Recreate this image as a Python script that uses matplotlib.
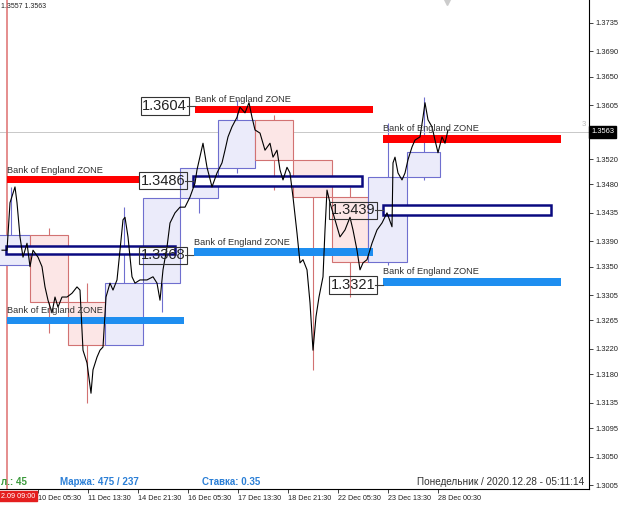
import matplotlib.pyplot as plt
from matplotlib.patches import Rectangle

plt.rcParams['font.family'] = ['Liberation Sans', 'DejaVu Sans']

# M30 bar index and close prices
bars = [2, 7, 10, 13, 15, 17, 20, 23, 27, 30, 33, 38, 42, 45, 48, 52, 55, 58, 62, 67,
        72, 77, 80, 83, 87, 91, 93, 97, 100, 103, 106, 110, 113, 117, 120, 123, 125, 128, 132, 135,
        140, 147, 153, 157, 160, 163, 167, 170, 175, 180, 185, 190, 195, 197, 203, 207, 212, 217, 222, 225,
        228, 232, 237, 240, 245, 249, 252, 255, 260, 265, 270, 273, 277, 280, 283, 287, 290, 293, 297, 300,
        303, 307, 310, 313, 316, 319, 323, 325, 327, 330, 335, 340, 345, 350, 353, 357, 360, 363, 367, 372,
        377, 382, 387, 392, 393, 395, 398, 402, 405, 408, 412, 415, 420, 423, 425, 428, 432, 435, 438, 442,
        445, 448]
closes = [1.3376, 1.3376, 1.3451, 1.3466, 1.3476, 1.3451, 1.3397, 1.3365, 1.3387, 1.3350,
          1.3376, 1.3365, 1.3350, 1.3318, 1.3297, 1.3277, 1.3302, 1.3286, 1.3302, 1.3302,
          1.3308, 1.3318, 1.3313, 1.3218, 1.3198, 1.3150, 1.3187, 1.3207, 1.3218, 1.3223,
          1.3302, 1.3324, 1.3313, 1.3329, 1.3376, 1.3424, 1.3428, 1.3397, 1.3334, 1.3324,
          1.3329, 1.3329, 1.3334, 1.3324, 1.3297, 1.3345, 1.3381, 1.3419, 1.3435, 1.3444,
          1.3444, 1.3460, 1.3482, 1.3503, 1.3545, 1.3507, 1.3476, 1.3498, 1.3514, 1.3534,
          1.3555, 1.3571, 1.3586, 1.3602, 1.3593, 1.3609, 1.3586, 1.3566, 1.3561, 1.3534,
          1.3545, 1.3523, 1.3534, 1.3503, 1.3487, 1.3507, 1.3498, 1.3460, 1.3403, 1.3356,
          1.3361, 1.3345, 1.3293, 1.3218, 1.3271, 1.3302, 1.3334, 1.3408, 1.3471, 1.3451,
          1.3424, 1.3397, 1.3408, 1.3428, 1.3408, 1.3376, 1.3345, 1.3356, 1.3361, 1.3387,
          1.3408, 1.3419, 1.3435, 1.3413, 1.3514, 1.3523, 1.3498, 1.3487, 1.3498, 1.3519,
          1.3539, 1.3550, 1.3555, 1.3586, 1.3609, 1.3582, 1.3571, 1.3550, 1.3530, 1.3555,
          1.3545, 1.3566]

# daily range boxes
day_start = [-8, 30, 68, 105, 143, 180, 218, 255, 293, 332, 368, 407]
day_end = [30, 68, 105, 143, 180, 218, 255, 293, 332, 368, 407, 440]
day_open = [1.3353, 1.3400, 1.3294, 1.3226, 1.3324, 1.3459, 1.3506, 1.3582, 1.3519, 1.3460, 1.3357, 1.3492]
day_close = [1.3400, 1.3294, 1.3226, 1.3324, 1.3459, 1.3506, 1.3582, 1.3519, 1.3460, 1.3357, 1.3492, 1.3531]
day_high = [1.3476, 1.3411, 1.3324, 1.3444, 1.3459, 1.3506, 1.3613, 1.3590, 1.3519, 1.3476, 1.3577, 1.3618]
day_low = [1.3353, 1.3245, 1.3135, 1.3226, 1.3278, 1.3435, 1.3498, 1.3471, 1.3187, 1.3302, 1.3353, 1.3487]

# Bank of England zones: start bar, end bar, low, high
red_zones = [(195, 373, 1.3593, 1.3604), (7, 140, 1.3482, 1.3493), (383, 561, 1.3545, 1.3558)]
blue_zones = [(7, 184, 1.3259, 1.3271), (194, 373, 1.3367, 1.3379), (383, 561, 1.3320, 1.3332)]
navy_zones = [(6, 175, 1.3370, 1.3383), (193, 362, 1.3477, 1.3493), (383, 551, 1.3432, 1.3447)]

# price labels and the bar where they attach
level_prices = [1.3604, 1.3486, 1.3368, 1.3439, 1.3321]
level_bars = [195, 193, 193, 383, 383]

current_price = 1.3563
y_ticks = [1.3735, 1.3690, 1.3650, 1.3605, 1.3520, 1.3480, 1.3435, 1.3390, 1.3350,
           1.3305, 1.3265, 1.3220, 1.3180, 1.3135, 1.3095, 1.3050, 1.3005]
x_tick_bars = [38, 88, 138, 188, 238, 288, 338, 388, 438]
x_tick_labels = ['10 Dec 05:30', '11 Dec 13:30', '14 Dec 21:30', '16 Dec 05:30', '17 Dec 13:30',
                 '18 Dec 21:30', '22 Dec 05:30', '23 Dec 13:30', '28 Dec 00:30']

fig = plt.figure(figsize=(6.2, 5.05), dpi=100)
ax = fig.add_axes([0, 16 / 505, 589 / 620, 489 / 505])
ax.set_xlim(0, 589)
ax.set_ylim(1.29987, 1.37713)

# daily boxes + wicks
for s, e, o, c, h, l in zip(day_start, day_end, day_open, day_close, day_high, day_low):
    if c >= o:
        fc, ec = '#ebebfa', '#6f6fcf'
    else:
        fc, ec = '#fce6e6', '#d27272'
    mid = (s + e) / 2
    ax.vlines(mid, l, h, color=ec, lw=0.8, zorder=1)
    ax.add_patch(Rectangle((s, min(o, c)), e - s, abs(c - o), fc=fc, ec=ec, lw=0.8, zorder=1.5))

# current price line and red time marker
ax.axhline(current_price, color='#c8c8c8', lw=0.7, zorder=1.2)
ax.axvline(7, color='#e07a7a', lw=1.2, zorder=1.3)

for s, e, lo, hi in red_zones:
    ax.add_patch(Rectangle((s, lo), e - s, hi - lo, fc='#ff0000', ec='none', zorder=2))
    ax.text(max(s, 7), hi + 0.00025, 'Bank of England ZONE', fontsize=6.7, color='#333333',
            ha='left', va='bottom', zorder=6)
for s, e, lo, hi in blue_zones:
    ax.add_patch(Rectangle((s, lo), e - s, hi - lo, fc='#1e8ef0', ec='none', zorder=2))
    ax.text(s, hi + 0.00025, 'Bank of England ZONE', fontsize=6.7, color='#333333',
            ha='left', va='bottom', zorder=6)
for s, e, lo, hi in navy_zones:
    ax.add_patch(Rectangle((s, lo), e - s, hi - lo, fc='white', ec='#0a0a80', lw=1.8, zorder=3))

ax.plot(bars, closes, color='black', lw=0.8, zorder=4)

for p, b in zip(level_prices, level_bars):
    ax.plot([b - 8, b], [p, p], color='#444444', lw=0.8, zorder=5)
    ax.text(b - 8, p, f'{p:.4f}', fontsize=10.5, color='#222222', ha='right', va='center', zorder=6,
            bbox=dict(boxstyle='square,pad=0.12', fc='none', ec='#333333', lw=0.8))

# axes styling
for side in ['left', 'top']:
    ax.spines[side].set_visible(False)
ax.spines['right'].set_linewidth(0.8)
ax.spines['bottom'].set_linewidth(0.8)
ax.yaxis.tick_right()
ax.set_yticks(y_ticks)
ax.set_yticklabels([f'{v:.4f}' for v in y_ticks])
ax.tick_params(axis='y', length=3, width=0.6, pad=1.5, labelsize=5.4, colors='#222222')
ax.set_xticks(x_tick_bars)
ax.set_xticklabels(x_tick_labels, ha='left')
ax.tick_params(axis='x', length=3, width=0.6, pad=1.5, labelsize=5.2, colors='#222222')

ax.text(591, current_price, f'{current_price:.4f}', fontsize=5.4, color='white', ha='left', va='center',
        bbox=dict(boxstyle='square,pad=0.3', fc='black', ec='black'), clip_on=False, zorder=7)
ax.text(582, 1.3575, '3', fontsize=5.5, color='#bbbbbb', ha='left', va='center')
ax.plot([447], [1.3768], marker='v', ms=5, color='#cccccc', clip_on=False)

# status texts
fig.text(1 / 620, 0.995, '1.3557 1.3563', fontsize=5, color='#222222', ha='left', va='top')
fig.text(1 / 620, 23 / 505, 'л.: 45', fontsize=7, fontweight='bold', color='#3c9a3c', ha='left', va='center')
fig.text(60 / 620, 23 / 505, 'Маржа: 475 / 237', fontsize=7, fontweight='bold', color='#2b7fd6',
         ha='left', va='center')
fig.text(202 / 620, 23 / 505, 'Ставка: 0.35', fontsize=7, fontweight='bold', color='#2b7fd6',
         ha='left', va='center')
fig.text(584 / 620, 23 / 505, 'Понедельник / 2020.12.28 - 05:11:14', fontsize=7.2, color='#333333',
         ha='right', va='center')
fig.text(1 / 620, 9 / 505, '2.09 09:00', fontsize=5.2, color='white', ha='left', va='center',
         bbox=dict(boxstyle='square,pad=0.25', fc='#e41e1e', ec='#e41e1e'))

plt.savefig('out.png', dpi=100)
